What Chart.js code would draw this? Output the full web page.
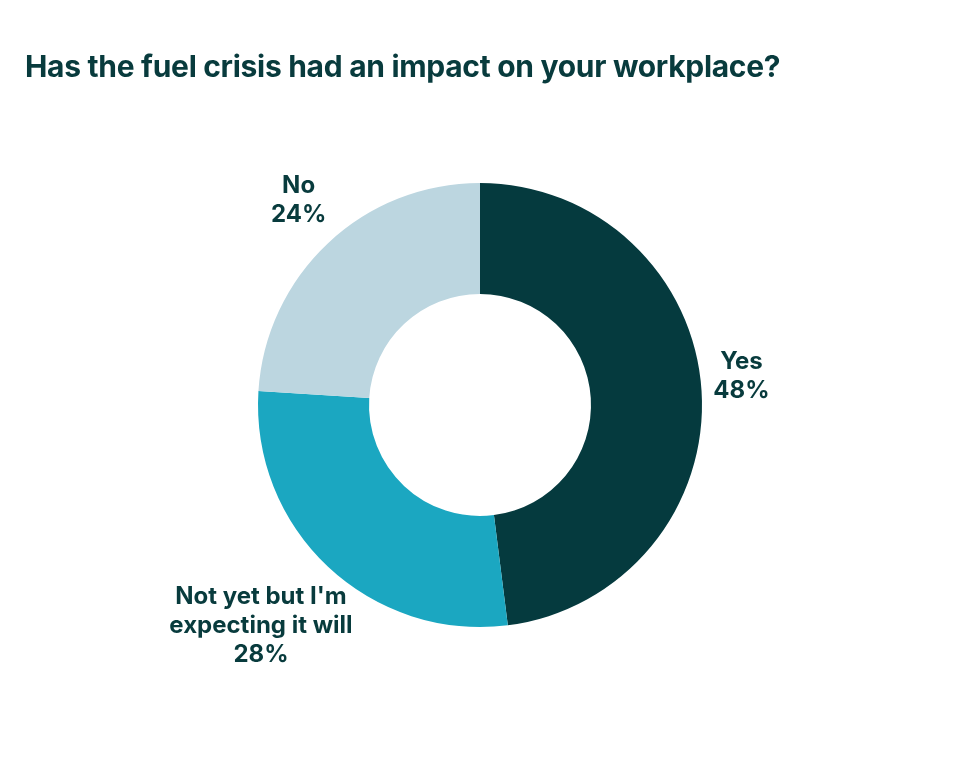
<!DOCTYPE html>
<html>
<head>
<meta charset="utf-8">
<script src="https://cdn.jsdelivr.net/npm/chart.js@4"></script>
<style>
  body { margin: 0; background: #fff; }
  #wrap { position: relative; width: 960px; height: 766px; }
  h1 { position: absolute; left: 25px; top: 48px; margin: 0; font: 700 30px "Inter", "Lato", sans-serif; color: #083b3d; letter-spacing: -0.3px; }
</style>
</head>
<body>
<div id="wrap">
  <canvas id="myChart" width="960" height="766"></canvas>
  <h1>Has the fuel crisis had an impact on your workplace?</h1>
</div>
<script>
// Datos del gráfico
const categories = ["Yes", "Not yet but I'm\nexpecting it will", "No"];
const values = [48, 28, 24];
const colors = ["#053a3e", "#1ba7c1", "#bcd6e0"];
const labelDist = [262, 320, 265];

// Etiquetas fuera del anillo
const outsideLabels = {
    id: 'outsideLabels',
    afterDraw(chart) {
        const ctx = chart.ctx;
        const arcs = chart.getDatasetMeta(0).data;
        ctx.save();
        ctx.font = '700 24px "Inter", "Lato", sans-serif';
        ctx.fillStyle = '#083b3d';
        ctx.textAlign = 'center';
        ctx.textBaseline = 'middle';
        arcs.forEach((arc, i) => {
            const mid = (arc.startAngle + arc.endAngle) / 2;
            const x = arc.x + Math.cos(mid) * labelDist[i];
            const y = arc.y + Math.sin(mid) * labelDist[i];
            const lines = categories[i].split('\n').concat([values[i] + '%']);
            const lh = 29;
            const y0 = y - (lines.length - 1) * lh / 2 - 12;
            lines.forEach((t, k) => ctx.fillText(t, x, y0 + k * lh));
        });
        ctx.restore();
    }
};

var ctx = document.getElementById('myChart').getContext('2d');
new Chart(ctx, {
    type: 'doughnut',
    data: {
        labels: categories,
        datasets: [{
            data: values,
            backgroundColor: colors,
            borderWidth: 0
        }]
    },
    options: {
        responsive: false,
        animation: false,
        cutout: '50%',
        layout: { padding: { top: 183, bottom: 139, left: 0, right: 0 } },
        plugins: {
            legend: { display: false },
            tooltip: { enabled: false }
        }
    },
    plugins: [outsideLabels]
});
</script>
</body>
</html>
